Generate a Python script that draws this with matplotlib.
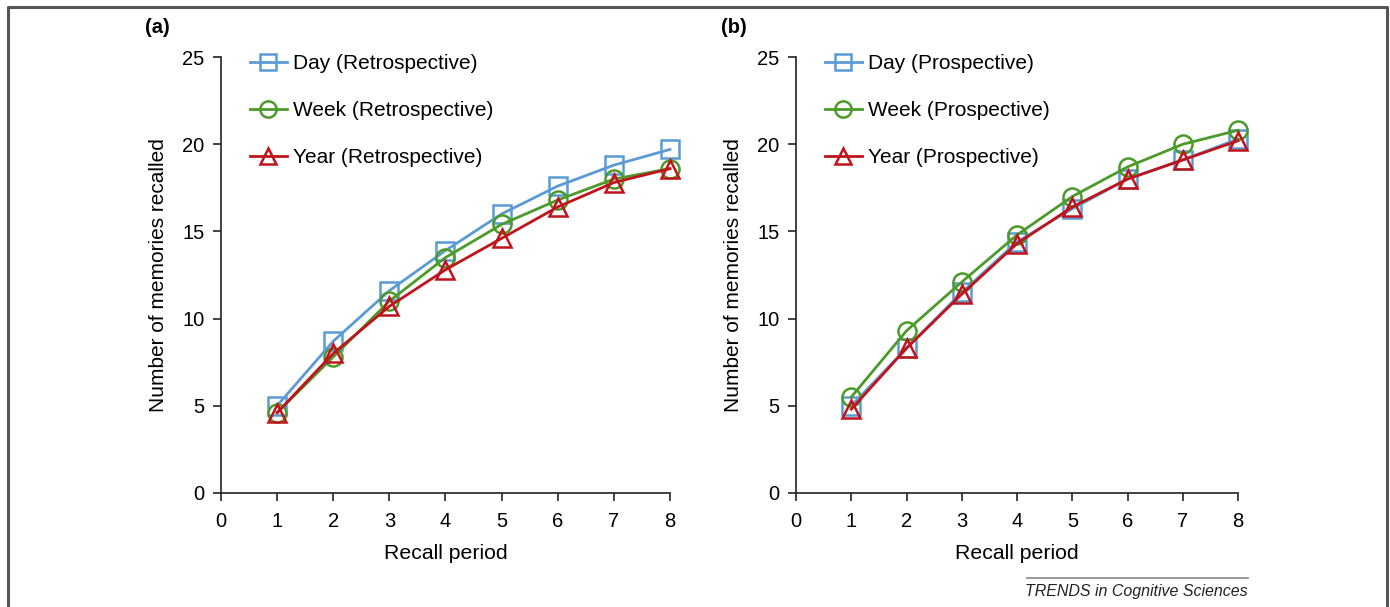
import numpy as np
import matplotlib.pyplot as plt
from matplotlib.lines import Line2D

plt.rcParams['font.family'] = ['Liberation Sans', 'DejaVu Sans']

periods = [1, 2, 3, 4, 5, 6, 7, 8]

# panel (a) retrospective
retro_day = [5.0, 8.7, 11.6, 13.9, 16.0, 17.6, 18.8, 19.7]
retro_week = [4.6, 7.8, 11.0, 13.5, 15.4, 16.8, 18.0, 18.6]
retro_year = [4.6, 8.0, 10.7, 12.8, 14.6, 16.4, 17.8, 18.6]

# panel (b) prospective
pro_day = [5.0, 8.3, 11.5, 14.4, 16.3, 18.0, 19.1, 20.3]
pro_week = [5.5, 9.3, 12.1, 14.8, 17.0, 18.7, 20.0, 20.8]
pro_year = [4.8, 8.3, 11.4, 14.3, 16.4, 18.0, 19.1, 20.2]

BLUE = "#5b9bd5"
GREEN = "#4c9a2a"
RED = "#c0141c"

fig = plt.figure(figsize=(13.9, 6.07), dpi=100)

# outer frame
fig.add_artist(Line2D([0.0055, 0.0055, 0.998, 0.998], [0.0, 0.988, 0.988, 0.0],
                      transform=fig.transFigure, color="#555555", lw=2.2))

ax_a = fig.add_axes([0.159, 0.188, 0.323, 0.718])
ax_b = fig.add_axes([0.5727, 0.188, 0.318, 0.718])


def draw(ax, day, week, year, kind, tag, tag_x):
    style = dict(lw=2, ms=13, mfc="none", mew=1.8, clip_on=False)
    ax.plot(periods, day, color=BLUE, marker="s", label=f"Day ({kind})", **style)
    ax.plot(periods, week, color=GREEN, marker="o", label=f"Week ({kind})", **style)
    ax.plot(periods, year, color=RED, marker="^", label=f"Year ({kind})", **style)
    ax.set_xlim(0, 8)
    ax.set_ylim(0, 25)
    ax.set_xticks(range(0, 9))
    ax.set_yticks(range(0, 26, 5))
    ax.spines["top"].set_visible(False)
    ax.spines["right"].set_visible(False)
    for side in ["left", "bottom"]:
        ax.spines[side].set_color("#222222")
        ax.spines[side].set_linewidth(1.2)
    ax.tick_params(direction="out", length=6, width=1.2, labelsize=14.5, color="#222222")
    ax.tick_params(axis="x", pad=8)
    ax.tick_params(axis="y", pad=6)
    ax.set_xlabel("Recall period", fontsize=15.3, labelpad=9)
    ax.set_ylabel("Number of memories recalled", fontsize=15, labelpad=10)
    ax.legend(loc="upper left", bbox_to_anchor=(0.022, 1.05), frameon=False, fontsize=15,
              labelspacing=1.35, handlelength=1.8, handletextpad=0.3, markerscale=0.9)
    fig.text(tag_x, 0.945, tag, fontsize=14.5, fontweight="bold")


draw(ax_a, retro_day, retro_week, retro_year, "Retrospective", "(a)", 0.104)
draw(ax_b, pro_day, pro_week, pro_year, "Prospective", "(b)", 0.519)

fig.add_artist(Line2D([0.739, 0.898], [0.047, 0.047], transform=fig.transFigure,
                      color="#888888", lw=1.2))
fig.text(0.7375, 0.018, "TRENDS in Cognitive Sciences", fontsize=11.5, style="italic",
         color="#222222")

fig.savefig("out.png", dpi=100)
